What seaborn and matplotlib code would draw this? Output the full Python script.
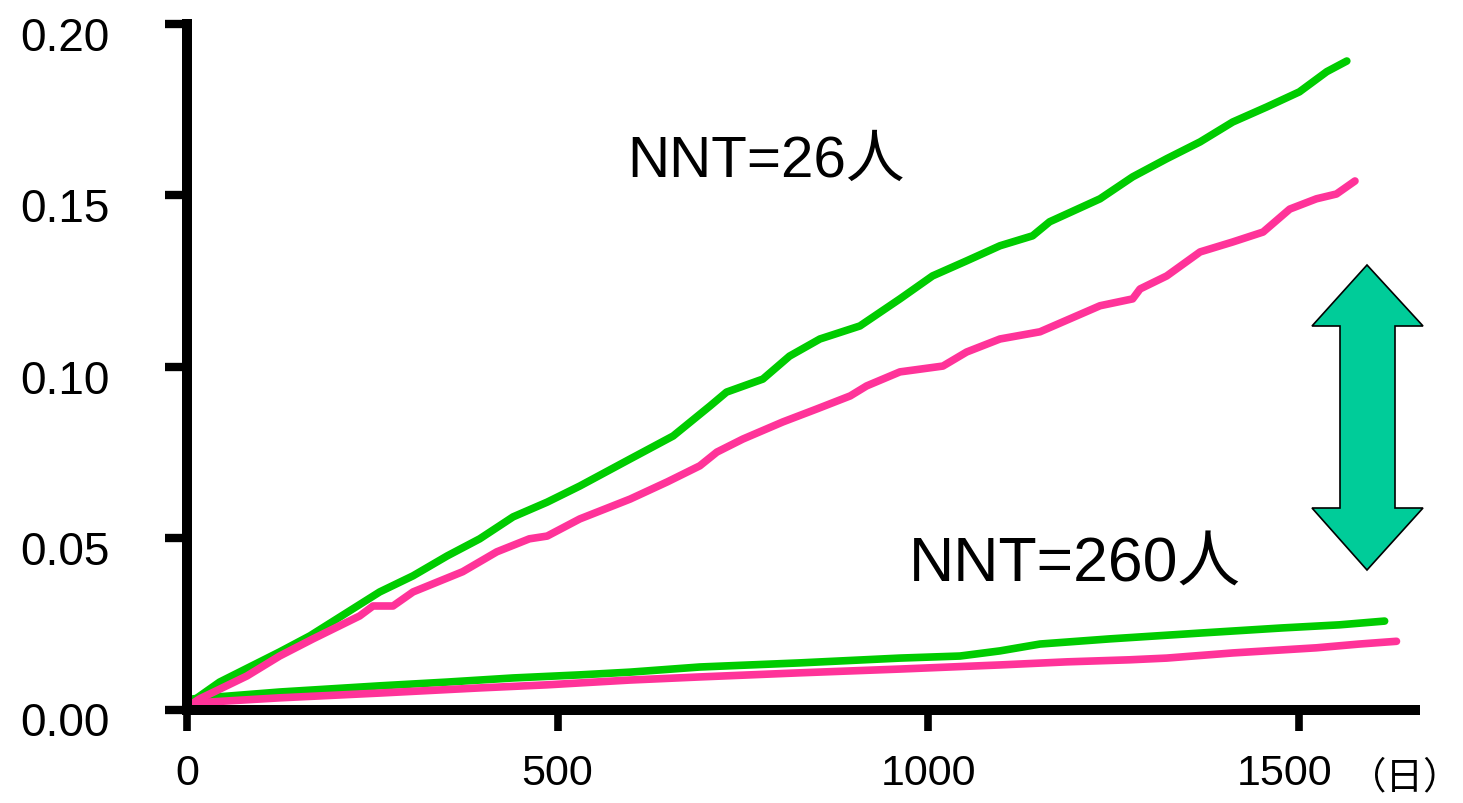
import matplotlib
matplotlib.use("Agg")
import matplotlib.pyplot as plt
from matplotlib.patches import Polygon
from matplotlib.transforms import ScaledTranslation
import seaborn as sns
import pandas as pd

# ---------------- data ----------------
days_green_high = [0, 44, 125, 166, 260, 305, 351, 395, 440, 486, 530, 598, 656, 706, 728, 777,
                   813, 854, 908, 962, 1006, 1052, 1097, 1141, 1164, 1232, 1276, 1322, 1367,
                   1411, 1457, 1501, 1538, 1565]
vals_green_high = [0.0013, 0.0080, 0.0168, 0.0215, 0.0343, 0.0390, 0.0448, 0.0498, 0.0562, 0.0605,
                   0.0652, 0.0731, 0.0798, 0.0886, 0.0926, 0.0964, 0.1031, 0.1081, 0.1119, 0.1198,
                   0.1265, 0.1309, 0.1353, 0.1382, 0.1423, 0.1490, 0.1554, 0.1607, 0.1656, 0.1714,
                   0.1758, 0.1802, 0.1861, 0.1892]

days_pink_high = [0, 17, 81, 125, 170, 233, 251, 278, 305, 372, 418, 462, 486, 530, 598, 648, 692,
                  715, 750, 804, 850, 895, 917, 962, 1020, 1052, 1097, 1151, 1232, 1276, 1286,
                  1322, 1367, 1411, 1452, 1488, 1524, 1551, 1576]
vals_pink_high = [0.0007, 0.0031, 0.0098, 0.0156, 0.0206, 0.0273, 0.0302, 0.0302, 0.0343, 0.0402,
                  0.0460, 0.0498, 0.0506, 0.0556, 0.0614, 0.0664, 0.0711, 0.0751, 0.0789, 0.0839,
                  0.0877, 0.0915, 0.0944, 0.0985, 0.1002, 0.1043, 0.1081, 0.1102, 0.1178, 0.1198,
                  0.1227, 0.1265, 0.1335, 0.1364, 0.1393, 0.1460, 0.1490, 0.1504, 0.1542]

days_green_low = [0, 8, 125, 260, 351, 440, 530, 598, 692, 827, 962, 1043, 1097, 1151, 1245,
                  1367, 1478, 1555, 1616]
vals_green_low = [0.0013, 0.0031, 0.0051, 0.0069, 0.0080, 0.0092, 0.0101, 0.0109, 0.0124, 0.0136,
                  0.0150, 0.0156, 0.0171, 0.0191, 0.0206, 0.0223, 0.0238, 0.0247, 0.0258]

days_pink_low = [0, 8, 125, 260, 395, 486, 598, 692, 827, 962, 1097, 1187, 1272, 1322, 1411,
                 1524, 1582, 1632]
vals_pink_low = [0.0007, 0.0019, 0.0034, 0.0048, 0.0063, 0.0072, 0.0086, 0.0095, 0.0107, 0.0118,
                 0.0130, 0.0139, 0.0145, 0.0150, 0.0165, 0.0180, 0.0191, 0.0199]

x_ticks = [0, 500, 1000, 1500]
x_tick_labels = ["0", "500", "1000", "1500"]
y_ticks = [0.00, 0.05, 0.10, 0.15, 0.20]
y_tick_labels = ["0.00", "0.05", "0.10", "0.15", "0.20"]

label_high = "NNT=26人"
label_low = "NNT=260人"
unit_label = "（日）"

GREEN = "#00CC00"
PINK = "#FF3399"
ARROW = "#00CC99"

# ---------------- figure ----------------
sns.set_style("white")
plt.rcParams["font.family"] = ["Liberation Sans", "Noto Sans CJK JP", "DejaVu Sans"]
plt.rcParams["text.color"] = "black"
plt.rcParams["xtick.color"] = "black"
plt.rcParams["ytick.color"] = "black"
plt.rcParams["xtick.labelcolor"] = "black"
plt.rcParams["ytick.labelcolor"] = "black"

W, H = 1463, 804
fig = plt.figure(figsize=(W / 100, H / 100), dpi=100)
ax = fig.add_axes([187 / W, 1 - 710.5 / H, (1415 - 187) / W, (710.5 - 25) / H])

for d, v, c in [(days_green_high, vals_green_high, GREEN),
                (days_green_low, vals_green_low, GREEN),
                (days_pink_high, vals_pink_high, PINK),
                (days_pink_low, vals_pink_low, PINK)]:
    df = pd.DataFrame({"day": d, "value": v})
    sns.lineplot(data=df, x="day", y="value", color=c, linewidth=5.5, ax=ax,
                 solid_capstyle="round", solid_joinstyle="round", clip_on=False)

ax.set_xlim(0, 1657)
ax.set_ylim(0, 0.20)
ax.set_xlabel("")
ax.set_ylabel("")

for side in ["top", "right"]:
    ax.spines[side].set_visible(False)
for side in ["left", "bottom"]:
    ax.spines[side].set_linewidth(7.2)
    ax.spines[side].set_color("black")

ax.set_xticks(x_ticks)
ax.set_xticklabels(x_tick_labels)
ax.set_yticks(y_ticks)
ax.set_yticklabels(y_tick_labels)

ax.tick_params(axis="y", direction="out", length=16, width=6, colors="black",
               labelsize=33, pad=40, left=True)
ax.tick_params(axis="x", direction="out", length=15, width=5.5, colors="black",
               labelsize=31, pad=16, bottom=True)

off = ScaledTranslation(0, -9 / 100, fig.dpi_scale_trans)
for lab in ax.get_yticklabels():
    lab.set_transform(lab.get_transform() + off)
offx = ScaledTranslation(-14 / 100, 0, fig.dpi_scale_trans)
lab1500 = ax.get_xticklabels()[-1]
lab1500.set_transform(lab1500.get_transform() + offx)

txt_family = ["Liberation Sans", "Noto Sans CJK JP"]
fig.text(766 / W, 1 - 162 / H, label_high, fontsize=42, family=txt_family,
         ha="center", va="center", color="black")
fig.text(1075 / W, 1 - 565 / H, label_low, fontsize=45, family=txt_family,
         ha="center", va="center", color="black")
fig.text(1461 / W, 1 - 778 / H, unit_label, fontsize=27, family=["Noto Sans CJK JP"],
         ha="right", va="center", color="black")

pts = [(1367, 266), (1423, 327), (1395, 327), (1395, 509), (1423, 509), (1367, 571),
       (1312, 509), (1340, 509), (1340, 327), (1312, 327)]
arrow = Polygon([(x / W, 1 - y / H) for x, y in pts], closed=True, transform=fig.transFigure,
                facecolor=ARROW, edgecolor="black", linewidth=1.2)
fig.patches.append(arrow)

fig.savefig("out.png", dpi=100)
